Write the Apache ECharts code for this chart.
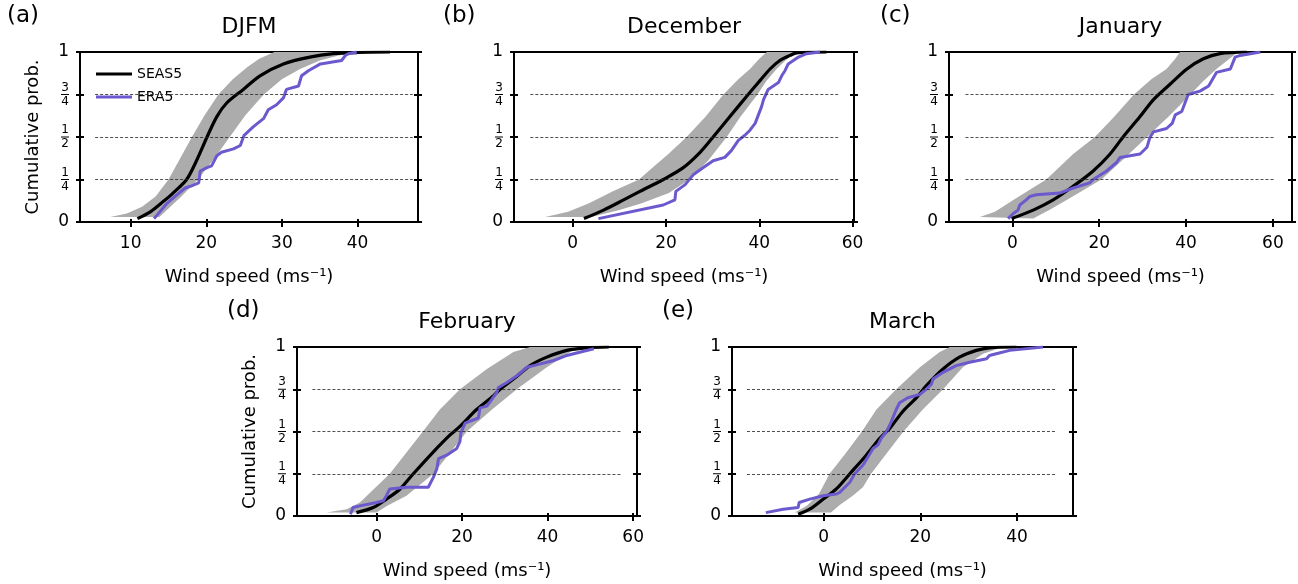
<!DOCTYPE html>
<html>
<head>
<meta charset="utf-8">
<script src="https://cdn.jsdelivr.net/npm/echarts@6/dist/echarts.min.js"></script>
<style>
  html, body { margin: 0; padding: 0; background: #fff; }
  #chart { width: 1298px; height: 584px; }
</style>
</head>
<body>
<div id="chart"></div>
<script>
// tick labels
const yTickValues = [0, 0.25, 0.5, 0.75, 1];
const yTickLabels = ['0', '1/4', '1/2', '3/4', '1'];
const xTicksA = [10, 20, 30, 40];
const xTicksB = [0, 20, 40, 60];
const xTicksC = [0, 20, 40, 60];
const xTicksD = [0, 20, 40, 60];
const xTicksE = [0, 20, 40];

// (a) DJFM  [wind speed, cumulative prob]
const seasA = [[10.9,0.02],[12.6,0.06],[14.3,0.12],[15.6,0.17],[17.4,0.25],[18.7,0.36],[20.1,0.50],[21.4,0.62],[22.7,0.70],[24.9,0.78],[27.1,0.86],[30.2,0.93],[33.7,0.97],[36.8,0.99],[40,0.997],[44.3,1.0]];
const eraA = [[13.1,0.02],[14.8,0.11],[16.1,0.16],[17.2,0.2],[17.9,0.21],[19.0,0.23],[19.2,0.3],[20.1,0.32],[20.7,0.33],[21.4,0.39],[22.0,0.41],[23.6,0.43],[24.5,0.45],[25.0,0.51],[26.2,0.56],[27.6,0.61],[28.2,0.66],[29.3,0.69],[30.2,0.73],[30.6,0.78],[32.2,0.8],[32.6,0.86],[33.5,0.89],[35.1,0.93],[37.9,0.95],[38.4,0.98],[38.8,0.99],[39.9,1.0]];
const bandLoA = [[7.3,0.03],[9.5,0.05],[11.5,0.09],[13.3,0.15],[15.0,0.25],[16.5,0.37],[18.1,0.5],[19.8,0.63],[21.6,0.75],[23.5,0.84],[25.4,0.91],[27,0.96],[29,1.0]];
const bandHiA = [[13.8,0.03],[15,0.08],[16.7,0.15],[18.9,0.25],[21,0.37],[23.1,0.5],[25.2,0.63],[27.6,0.75],[30,0.84],[32.4,0.9],[35,0.95],[37.5,0.98],[40,1.0]];

// (b) December
const seasB = [[2.4,0.02],[6.6,0.07],[10.9,0.13],[14.4,0.18],[19.4,0.25],[23.7,0.32],[27.3,0.41],[30.1,0.5],[33.7,0.62],[37.3,0.74],[40.1,0.83],[42.3,0.9],[44.4,0.95],[46.6,0.98],[48,0.995],[54.4,1.0]];
const eraB = [[5.5,0.02],[19.4,0.1],[21.9,0.13],[22.1,0.18],[24.1,0.22],[25.9,0.28],[28,0.32],[30.1,0.36],[32.6,0.38],[34,0.42],[35.5,0.48],[36.9,0.51],[38,0.54],[39.1,0.58],[40.5,0.68],[40.9,0.72],[41.9,0.78],[44.1,0.82],[44.8,0.86],[45.5,0.89],[46.2,0.93],[47.3,0.95],[48.4,0.97],[50.1,0.99],[53,1.0]];
const bandLoB = [[-5.9,0.03],[-1,0.06],[3.5,0.11],[8.5,0.18],[14.2,0.25],[17.5,0.33],[20.5,0.4],[24.4,0.5],[28.5,0.62],[32.3,0.75],[35.5,0.84],[38,0.9],[40,0.96],[41.6,1.0]];
const bandHiB = [[4,0.03],[10,0.07],[14.8,0.11],[20.6,0.17],[25,0.25],[29,0.36],[33,0.5],[36,0.62],[39.6,0.75],[41.5,0.83],[43.7,0.9],[46,0.96],[48,1.0]];

// (c) January
const seasC = [[-0.2,0.02],[4.8,0.07],[9.4,0.13],[14,0.21],[18.6,0.3],[22.5,0.4],[25.5,0.5],[29.4,0.62],[32.5,0.72],[36.3,0.81],[40.2,0.9],[44,0.96],[47.8,0.99],[54,1.0]];
const eraC = [[-1,0.02],[0.2,0.05],[1.3,0.07],[1.7,0.1],[3.2,0.13],[4,0.15],[5.5,0.16],[10.9,0.17],[14,0.2],[17.8,0.23],[18.6,0.25],[21.7,0.3],[24,0.35],[24.8,0.38],[29.4,0.4],[31,0.44],[31.7,0.5],[32.5,0.53],[35.5,0.55],[36.8,0.58],[37.5,0.63],[39,0.65],[40.5,0.75],[43.2,0.77],[45.2,0.8],[47,0.88],[50.2,0.9],[51.3,0.97],[52.5,0.98],[57.1,1.0]];
const bandLoC = [[-7.5,0.03],[-4,0.06],[0.2,0.13],[4,0.19],[7.8,0.25],[14,0.4],[19,0.5],[23.5,0.62],[28,0.75],[32,0.84],[35.5,0.9],[37.5,0.96],[38.6,1.0]];
const bandHiC = [[4.8,0.02],[8.5,0.07],[12.5,0.13],[16.5,0.19],[20.5,0.25],[26,0.38],[31,0.5],[36,0.62],[41,0.75],[44,0.83],[47,0.9],[50,0.96],[52,1.0]];

// (d) February
const seasD = [[-4.7,0.02],[-0.8,0.05],[2.3,0.1],[5.5,0.16],[8.6,0.25],[13.3,0.38],[17.2,0.48],[19.5,0.53],[23.4,0.63],[27.3,0.71],[28.9,0.75],[32,0.81],[35.9,0.89],[39.8,0.94],[44.5,0.98],[49.2,0.995],[54.3,1.0]];
const eraD = [[-6.1,0.01],[-5.5,0.05],[-3.9,0.06],[0,0.08],[1.6,0.09],[2.3,0.12],[3.1,0.16],[7,0.17],[12.1,0.17],[13.3,0.23],[14.1,0.28],[14.5,0.34],[16.4,0.36],[18.75,0.4],[19.5,0.44],[19.7,0.49],[20.7,0.55],[20.9,0.56],[23.8,0.58],[24.2,0.64],[25.8,0.65],[28.1,0.73],[28.5,0.76],[30.5,0.79],[32.8,0.83],[35.2,0.88],[38.3,0.9],[41.4,0.92],[44.5,0.95],[47.7,0.97],[50.8,0.99]];
const bandLoD = [[-11.7,0.02],[-7,0.04],[-3.9,0.08],[3.1,0.25],[10.2,0.48],[14.8,0.63],[19.5,0.75],[25.8,0.87],[32,0.97],[35.9,1.0]];
const bandHiD = [[0,0.02],[2.5,0.06],[7,0.12],[13.3,0.25],[21.1,0.5],[27,0.63],[32.8,0.75],[39.8,0.88],[45.3,0.97],[47.7,1.0]];

// (e) March
const seasE = [[-5.3,0.01],[-2.9,0.04],[-0.1,0.1],[2.6,0.16],[5.4,0.25],[8.8,0.36],[11.6,0.46],[13.7,0.52],[16.4,0.62],[19.2,0.7],[21.2,0.77],[24.7,0.87],[28.1,0.94],[31.6,0.98],[34.3,0.995],[39.9,1.0]];
const eraE = [[-12,0.02],[-8.4,0.04],[-5.3,0.05],[-5.1,0.08],[-2.9,0.1],[-0.1,0.12],[2.6,0.13],[3.3,0.14],[5.4,0.2],[6.4,0.25],[8.1,0.3],[10.2,0.4],[11.2,0.42],[11.9,0.46],[13,0.5],[13.7,0.54],[15,0.63],[15.7,0.67],[17.4,0.7],[19.9,0.72],[21.2,0.75],[22.3,0.78],[22.6,0.81],[24.7,0.85],[27.4,0.89],[30.2,0.91],[33.7,0.93],[34.3,0.95],[35.7,0.96],[38.5,0.98],[45.4,1.0]];
const bandLoE = [[-6,0.02],[-3.5,0.06],[-1,0.13],[1.2,0.25],[4.5,0.37],[7.9,0.5],[10.9,0.63],[15,0.75],[19.9,0.88],[24,0.97],[26.1,1.0]];
const bandHiE = [[1.5,0.02],[3.3,0.065],[6,0.12],[8.1,0.17],[9.8,0.25],[13,0.37],[16.5,0.5],[20.5,0.63],[24.7,0.75],[28.8,0.88],[33,0.96],[37.1,1.0]];

// dashed reference lines at 1/4, 1/2, 3/4
const hlineLevels = [0.25, 0.5, 0.75];

const panels = [
  { label: '(a)', title: 'DJFM',     box: [80, 52, 338, 170],  xRange: [3.3, 48],     ticks: xTicksA, seas: seasA, era: eraA, lo: bandLoA, hi: bandHiA, hline: [5.3, 47.3],  yName: true },
  { label: '(b)', title: 'December', box: [514, 52, 340, 170], xRange: [-12.6, 60.3], ticks: xTicksB, seas: seasB, era: eraB, lo: bandLoB, hi: bandHiB, hline: [-9.1, 56.9], yName: false },
  { label: '(c)', title: 'January',  box: [949, 52, 343, 170], xRange: [-14.6, 64.4], ticks: xTicksC, seas: seasC, era: eraC, lo: bandLoC, hi: bandHiC, hline: [-10.8, 60.3], yName: false },
  { label: '(d)', title: 'February', box: [297, 347, 340, 169], xRange: [-18.6, 60.9], ticks: xTicksD, seas: seasD, era: eraD, lo: bandLoD, hi: bandHiD, hline: [-15, 57.4], yName: true },
  { label: '(e)', title: 'March',    box: [732, 347, 341, 169], xRange: [-19, 51.6],  ticks: xTicksE, seas: seasE, era: eraE, lo: bandLoE, hi: bandHiE, hline: [-15.9, 48], yName: false }
];

const FONT = 'DejaVu Sans';
const axisColor = '#000';

function yLabel(v) {
  const s = yTickLabels[yTickValues.indexOf(v)];
  if (s.indexOf('/') < 0) return '{w|' + s + '}';
  const parts = s.split('/');
  return '{n|' + parts[0] + '}\n{b| }\n{n|' + parts[1] + '}';
}

const chart = echarts.init(document.getElementById('chart'));

const grids = [], xAxes = [], yAxes = [], series = [], graphics = [];

panels.forEach((p, i) => {
  grids.push({
    left: p.box[0], top: p.box[1], width: p.box[2], height: p.box[3],
    show: true, borderColor: axisColor, borderWidth: 2, backgroundColor: 'transparent',
    containLabel: false, outerBoundsMode: 'none'
  });
  // main x axis (ticks outside, labels, name)
  xAxes.push({
    gridIndex: i, type: 'value', position: 'bottom', min: p.xRange[0], max: p.xRange[1],
    axisLine: { show: true, onZero: false, lineStyle: { color: axisColor, width: 2 } },
    axisTick: { show: true, length: 5, customValues: p.ticks, lineStyle: { color: axisColor, width: 2 } },
    axisLabel: { customValues: p.ticks, fontSize: 17, color: '#000', fontFamily: FONT, margin: 13 },
    splitLine: { show: false },
    name: 'Wind speed (ms⁻¹)', nameLocation: 'middle', nameGap: 46,
    nameTextStyle: { fontSize: 18, color: '#000', fontFamily: FONT }
  });
  // inner tick marks
  xAxes.push({
    gridIndex: i, type: 'value', position: 'bottom', min: p.xRange[0], max: p.xRange[1],
    axisLine: { show: false, onZero: false },
    axisTick: { show: true, inside: true, length: 3, customValues: p.ticks, lineStyle: { color: axisColor, width: 2 } },
    axisLabel: { show: false }, splitLine: { show: false }
  });

  const yBase = {
    gridIndex: i, type: 'value', min: 0, max: 1, interval: 0.25, splitLine: { show: false }
  };
  yAxes.push(Object.assign({}, yBase, {
    position: 'left',
    axisLine: { show: true, onZero: false, lineStyle: { color: axisColor, width: 2 } },
    axisTick: { show: true, length: 4, lineStyle: { color: axisColor, width: 2 } },
    axisLabel: {
      formatter: yLabel, margin: 11, color: '#000', fontFamily: FONT,
      rich: {
        w: { fontSize: 17, fontFamily: FONT, color: '#000' },
        n: { fontSize: 12, lineHeight: 11, fontFamily: FONT, color: '#000', align: 'center' },
        b: { fontSize: 1, width: 8, height: 1, lineHeight: 3, backgroundColor: '#000', align: 'center' }
      }
    },
    name: p.yName ? 'Cumulative prob.' : '', nameLocation: 'middle', nameGap: 38,
    nameTextStyle: { fontSize: 18, color: '#000', fontFamily: FONT }
  }));
  yAxes.push(Object.assign({}, yBase, {
    position: 'left', axisLine: { show: false, onZero: false },
    axisTick: { show: true, inside: true, length: 4, lineStyle: { color: axisColor, width: 2 } },
    axisLabel: { show: false }
  }));
  yAxes.push(Object.assign({}, yBase, {
    position: 'right',
    axisLine: { show: true, onZero: false, lineStyle: { color: axisColor, width: 2 } },
    axisTick: { show: true, length: 4, lineStyle: { color: axisColor, width: 2 } },
    axisLabel: { show: false }
  }));
  yAxes.push(Object.assign({}, yBase, {
    position: 'right', axisLine: { show: false, onZero: false },
    axisTick: { show: true, inside: true, length: 4, lineStyle: { color: axisColor, width: 2 } },
    axisLabel: { show: false }
  }));

  const xi = i * 2, yi = i * 4;
  // ensemble spread: left edge upward, right edge back down
  const poly = p.lo.concat(p.hi.slice().reverse());
  series.push({
    type: 'custom', xAxisIndex: xi, yAxisIndex: yi, silent: true, z: 1,
    data: poly,
    encode: { x: 0, y: 1 },
    renderItem: function (params, api) {
      if (params.dataIndex !== 0) return;
      return {
        type: 'polygon',
        shape: { points: poly.map(pt => api.coord(pt)) },
        style: { fill: '#acacac' }
      };
    }
  });
  series.push({
    type: 'line', name: 'SEAS5', xAxisIndex: xi, yAxisIndex: yi, z: 3,
    data: p.seas, symbol: 'none', smooth: 0.3,
    lineStyle: { color: '#000', width: 3.2 }, itemStyle: { color: '#000' },
    markLine: {
      silent: true, symbol: ['none', 'none'], label: { show: false },
      lineStyle: { color: '#222', width: 0.8, type: [3, 2] },
      emphasis: { disabled: true },
      data: hlineLevels.map(y => [{ coord: [p.hline[0], y] }, { coord: [p.hline[1], y] }])
    }
  });
  series.push({
    type: 'line', name: 'ERA5', xAxisIndex: xi, yAxisIndex: yi, z: 4,
    data: p.era, symbol: 'none',
    lineStyle: { color: '#6a5acd', width: 3 }, itemStyle: { color: '#6a5acd' }
  });

  const cx = p.box[0] + p.box[2] / 2;
  graphics.push({
    type: 'text', x: cx, y: p.box[1] - 36,
    style: { text: p.title, font: '22px "DejaVu Sans"', fill: '#000', textAlign: 'center', textVerticalAlign: 'top' }
  });
});

// panel letters
const labelPos = [[7, 5], [443, 5], [880, 5], [227, 300], [662, 300]];
panels.forEach((p, i) => {
  graphics.push({
    type: 'text', x: labelPos[i][0], y: labelPos[i][1],
    style: { text: p.label, font: '23px "DejaVu Sans"', fill: '#000', textAlign: 'left', textVerticalAlign: 'top' }
  });
});

chart.setOption({
  animation: false,
  textStyle: { fontFamily: FONT },
  grid: grids,
  xAxis: xAxes,
  yAxis: yAxes,
  legend: {
    data: ['SEAS5', 'ERA5'], left: 91, top: 62, orient: 'vertical',
    icon: 'rect', itemWidth: 36, itemHeight: 3, itemGap: 9,
    textStyle: { fontSize: 14, color: '#000', fontFamily: FONT }, selectedMode: false
  },
  series: series,
  graphic: graphics
});
</script>
</body>
</html>
